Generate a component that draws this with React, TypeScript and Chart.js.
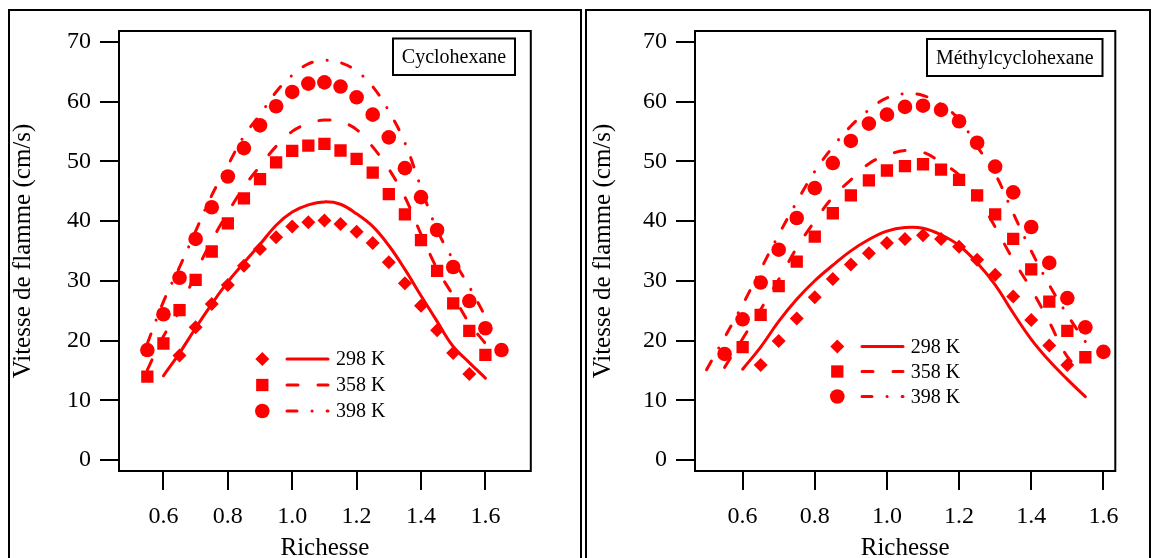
import React, { useEffect, useRef } from "react";
import { Chart, registerables } from "chart.js";

Chart.register(...registerables);

const RED = "rgb(255,0,0)";
const FONT = "'Liberation Serif', 'Times New Roman', serif";

const X_TICKS = [0.6, 0.8, 1.0, 1.2, 1.4, 1.6];
const Y_TICKS = [0, 10, 20, 30, 40, 50, 60, 70];
const SERIES_LABELS = ["298 K", "358 K", "398 K"];
const Y_TITLE = "Vitesse de flamme (cm/s)";
const X_TITLE = "Richesse";

// ---------- Cyclohexane (left) ----------
const CY_NAME = "Cyclohexane";
const CY_PHI_298 = [0.65, 0.7, 0.75, 0.8, 0.85, 0.9, 0.95, 1.0, 1.05, 1.1, 1.15, 1.2, 1.25, 1.3, 1.35, 1.4, 1.45, 1.5, 1.55];
const CY_EXP_298 = [17.5, 22.2, 26.1, 29.3, 32.5, 35.3, 37.3, 39.1, 39.8, 40.1, 39.5, 38.2, 36.3, 33.1, 29.6, 25.8, 21.7, 17.9, 14.4];
const CY_PHI_358 = [0.55, 0.6, 0.65, 0.7, 0.75, 0.8, 0.85, 0.9, 0.95, 1.0, 1.05, 1.1, 1.15, 1.2, 1.25, 1.3, 1.35, 1.4, 1.45, 1.5, 1.55, 1.6];
const CY_EXP_358 = [13.95, 19.5, 25.1, 30.15, 34.9, 39.6, 43.8, 47.0, 49.8, 51.75, 52.6, 52.9, 51.8, 50.4, 48.1, 44.5, 41.1, 36.8, 31.65, 26.2, 21.6, 17.6];
const CY_PHI_398 = [0.55, 0.6, 0.65, 0.7, 0.75, 0.8, 0.85, 0.9, 0.95, 1.0, 1.05, 1.1, 1.15, 1.2, 1.25, 1.3, 1.35, 1.4, 1.45, 1.5, 1.55, 1.6, 1.65];
const CY_EXP_398 = [18.4, 24.4, 30.5, 37.0, 42.3, 47.45, 52.2, 56.0, 59.2, 61.6, 63.0, 63.2, 62.5, 60.7, 57.8, 54.0, 48.85, 44.0, 38.5, 32.3, 26.6, 22.05, 18.4];

const CY_FIT_PHI_298 = [0.6, 0.65, 0.7, 0.75, 0.8, 0.85, 0.9, 0.95, 1.0, 1.05, 1.1, 1.15, 1.2, 1.25, 1.3, 1.35, 1.4, 1.45, 1.5, 1.55, 1.6];
const CY_FIT_298 = [14.1, 17.9, 22.1, 26.1, 29.8, 33.0, 36.1, 39.3, 41.5, 42.7, 43.2, 42.8, 41.2, 39.1, 35.9, 31.9, 27.5, 23.2, 19.0, 16.3, 13.7];
const CY_FIT_PHI_358 = [0.55, 0.6, 0.65, 0.7, 0.75, 0.8, 0.85, 0.9, 0.95, 1.0, 1.05, 1.1, 1.15, 1.2, 1.25, 1.3, 1.35, 1.4, 1.45, 1.5, 1.55, 1.6];
const CY_FIT_358 = [15.1, 20.7, 25.0, 31.3, 36.7, 41.4, 45.7, 49.2, 52.5, 55.0, 56.3, 56.9, 56.6, 55.3, 52.4, 48.7, 44.0, 37.8, 32.0, 27.5, 22.9, 19.5];
const CY_FIT_PHI_398 = [0.55, 0.6, 0.65, 0.7, 0.75, 0.8, 0.85, 0.9, 0.95, 1.0, 1.05, 1.1, 1.15, 1.2, 1.25, 1.3, 1.35, 1.4, 1.45, 1.5, 1.55, 1.6];
const CY_FIT_398 = [19.5, 26.5, 32.3, 38.3, 44.3, 49.3, 54.2, 57.8, 61.6, 64.4, 66.3, 66.9, 66.5, 65.1, 62.5, 58.4, 53.1, 45.6, 38.5, 33.5, 29.0, 24.0];

// ---------- Méthylcyclohexane (right) ----------
const MCH_NAME = "Méthylcyclohexane";
const MCH_PHI_298 = [0.65, 0.7, 0.75, 0.8, 0.85, 0.9, 0.95, 1.0, 1.05, 1.1, 1.15, 1.2, 1.25, 1.3, 1.35, 1.4, 1.45, 1.5];
const MCH_EXP_298 = [15.9, 19.9, 23.7, 27.25, 30.3, 32.7, 34.6, 36.3, 37.0, 37.6, 37.0, 35.7, 33.5, 31.0, 27.35, 23.45, 19.15, 15.9];
const MCH_PHI_358 = [0.6, 0.65, 0.7, 0.75, 0.8, 0.85, 0.9, 0.95, 1.0, 1.05, 1.1, 1.15, 1.2, 1.25, 1.3, 1.35, 1.4, 1.45, 1.5, 1.55];
const MCH_EXP_358 = [18.9, 24.3, 29.1, 33.2, 37.4, 41.3, 44.3, 46.8, 48.45, 49.2, 49.5, 48.6, 46.9, 44.3, 41.1, 37.0, 31.9, 26.5, 21.6, 17.2];
const MCH_PHI_398 = [0.55, 0.6, 0.65, 0.7, 0.75, 0.8, 0.85, 0.9, 0.95, 1.0, 1.05, 1.1, 1.15, 1.2, 1.25, 1.3, 1.35, 1.4, 1.45, 1.5, 1.55, 1.6];
const MCH_EXP_398 = [17.75, 23.55, 29.7, 35.2, 40.5, 45.5, 49.7, 53.4, 56.3, 57.8, 59.1, 59.3, 58.6, 56.7, 53.1, 49.1, 44.8, 39.0, 33.0, 27.1, 22.2, 18.1];

const MCH_FIT_PHI_298 = [0.6, 0.65, 0.7, 0.75, 0.8, 0.85, 0.9, 0.95, 1.0, 1.05, 1.1, 1.15, 1.2, 1.25, 1.3, 1.35, 1.4, 1.45, 1.5, 1.55];
const MCH_FIT_298 = [15.2, 18.9, 23.2, 26.9, 30.0, 32.6, 35.0, 36.9, 38.3, 38.9, 38.8, 37.7, 35.9, 33.0, 29.3, 24.6, 20.2, 16.6, 13.5, 10.6];
const MCH_FIT_PHI_358 = [0.55, 0.6, 0.65, 0.7, 0.75, 0.8, 0.85, 0.9, 0.95, 1.0, 1.05, 1.1, 1.15, 1.2, 1.25, 1.3, 1.35, 1.4, 1.45, 1.5, 1.55];
const MCH_FIT_358 = [15.5, 20.3, 25.2, 30.2, 35.5, 40.0, 44.0, 46.9, 49.6, 51.0, 51.8, 51.5, 49.8, 47.7, 44.0, 39.0, 33.5, 28.6, 23.1, 17.3, 14.3];
const MCH_FIT_PHI_398 = [0.5, 0.55, 0.6, 0.65, 0.7, 0.75, 0.8, 0.85, 0.9, 0.95, 1.0, 1.05, 1.1, 1.15, 1.2, 1.25, 1.3, 1.35, 1.4, 1.45, 1.5, 1.55];
const MCH_FIT_398 = [15.1, 20.5, 26.0, 31.9, 37.7, 43.2, 48.3, 52.4, 55.9, 58.6, 60.6, 61.3, 61.0, 59.5, 57.0, 52.5, 47.9, 41.3, 35.0, 29.3, 24.3, 19.8];

const pts = (xs: number[], ys: number[]) => xs.map((x, i) => ({ x, y: ys[i] }));

const MARKERS = [
  { style: "rectRot", radius: 7 },
  { style: "rect", radius: 8.7 },
  { style: "circle", radius: 7.3 },
];
const DASHES: number[][] = [[], [11, 20], [10, 15, 0.1, 15]];

type PanelCfg = {
  left: number;
  width: number;
  name: string;
  xMin: number;
  xMax: number;
  yAxisWidth: number;
  padRight: number;
  yTitlePad: number;
  box: [number, number, number, number];
  legend: { mx: number; l1: number; l2: number; tx: number; rows: number[] };
  exp: { x: number; y: number }[][];
  fit: { x: number; y: number }[][];
};

function drawMarker(ctx: CanvasRenderingContext2D, style: string, r: number, x: number, y: number) {
  ctx.beginPath();
  if (style === "circle") {
    ctx.arc(x, y, r, 0, Math.PI * 2);
  } else if (style === "rect") {
    const s = r * Math.SQRT1_2;
    ctx.rect(x - s, y - s, 2 * s, 2 * s);
  } else {
    ctx.moveTo(x - r, y);
    ctx.lineTo(x, y - r);
    ctx.lineTo(x + r, y);
    ctx.lineTo(x, y + r);
    ctx.closePath();
  }
  ctx.fill();
}

function decorPlugin(cfg: PanelCfg) {
  return {
    id: "decor",
    afterDraw(chart: any) {
      const { ctx, chartArea: a } = chart;
      ctx.save();
      ctx.strokeStyle = "#000";
      ctx.lineWidth = 2;
      ctx.setLineDash([]);
      ctx.strokeRect(a.left, a.top, a.right - a.left, a.bottom - a.top);
      // name box
      const [bx, by, bw, bh] = cfg.box;
      ctx.fillStyle = "#fff";
      ctx.fillRect(bx, by, bw, bh);
      ctx.strokeRect(bx, by, bw, bh);
      ctx.fillStyle = "#000";
      ctx.font = `20px ${FONT}`;
      ctx.textAlign = "center";
      ctx.textBaseline = "middle";
      ctx.fillText(cfg.name, bx + bw / 2, by + bh / 2 + 1);
      // legend
      const L = cfg.legend;
      for (let i = 0; i < 3; i++) {
        const y = L.rows[i];
        ctx.fillStyle = RED;
        drawMarker(ctx, MARKERS[i].style, MARKERS[i].radius, L.mx, y);
        ctx.strokeStyle = RED;
        ctx.lineWidth = 3;
        ctx.lineCap = "round";
        ctx.setLineDash(DASHES[i]);
        ctx.beginPath();
        ctx.moveTo(L.l1, y);
        ctx.lineTo(L.l2, y);
        ctx.stroke();
        ctx.setLineDash([]);
        ctx.fillStyle = "#000";
        ctx.font = `20px ${FONT}`;
        ctx.textAlign = "left";
        ctx.textBaseline = "middle";
        ctx.fillText(SERIES_LABELS[i], L.tx, y + 1);
      }
      ctx.restore();
    },
  };
}

function buildConfig(cfg: PanelCfg): any {
  const datasets: any[] = [];
  for (let i = 0; i < 3; i++) {
    datasets.push({
      label: SERIES_LABELS[i] + " calc",
      data: cfg.fit[i],
      showLine: true,
      borderColor: RED,
      borderWidth: 3,
      borderDash: DASHES[i],
      borderCapStyle: "round",
      pointRadius: 0,
      pointHoverRadius: 0,
      tension: 0.4,
      fill: false,
    });
  }
  for (let i = 0; i < 3; i++) {
    datasets.push({
      label: SERIES_LABELS[i],
      data: cfg.exp[i],
      showLine: false,
      pointStyle: MARKERS[i].style,
      pointRadius: MARKERS[i].radius,
      pointHoverRadius: MARKERS[i].radius,
      backgroundColor: RED,
      borderColor: RED,
      borderWidth: 0,
    });
  }
  const tickFont = { family: FONT, size: 24 };
  const grid = {
    display: true,
    drawOnChartArea: false,
    drawTicks: true,
    tickLength: 19,
    tickWidth: 2,
    tickColor: "#000",
    color: "#000",
    lineWidth: 2,
  };
  return {
    type: "scatter",
    data: { datasets },
    plugins: [decorPlugin(cfg)],
    options: {
      responsive: false,
      maintainAspectRatio: false,
      animation: false,
      devicePixelRatio: 1,
      events: [],
      layout: { padding: { left: 0, top: 31, right: cfg.padRight, bottom: 0 } },
      plugins: { legend: { display: false }, tooltip: { enabled: false } },
      scales: {
        x: {
          type: "linear",
          min: cfg.xMin,
          max: cfg.xMax,
          afterFit: (s: any) => {
            s.height = 87;
          },
          afterBuildTicks: (s: any) => {
            s.ticks = X_TICKS.map((v) => ({ value: v }));
          },
          ticks: {
            callback: (v: any) => Number(v).toFixed(1),
            font: tickFont,
            color: "#000",
            padding: 12,
            maxRotation: 0,
            autoSkip: false,
          },
          grid,
          border: { display: false },
          title: {
            display: true,
            text: X_TITLE,
            color: "#000",
            font: { family: FONT, size: 25, lineHeight: 1.2 },
            padding: { top: 0, bottom: -5 },
          },
        },
        y: {
          type: "linear",
          min: -1.84,
          max: 71.8,
          afterFit: (s: any) => {
            s.width = cfg.yAxisWidth;
          },
          afterBuildTicks: (s: any) => {
            s.ticks = Y_TICKS.map((v) => ({ value: v }));
          },
          ticks: {
            callback: (v: any) => String(v),
            font: tickFont,
            color: "#000",
            padding: 9,
            autoSkip: false,
          },
          grid,
          border: { display: false },
          title: {
            display: true,
            text: Y_TITLE,
            color: "#000",
            font: { family: FONT, size: 25, lineHeight: 1.2 },
            padding: { top: cfg.yTitlePad, bottom: 0 },
          },
        },
      },
    },
  };
}

const PANELS: PanelCfg[] = [
  {
    left: 0,
    width: 583,
    name: CY_NAME,
    xMin: 0.462,
    xMax: 1.741,
    yAxisWidth: 119,
    padRight: 52.2,
    yTitlePad: 8,
    box: [393, 38.5, 122, 36.5],
    legend: { mx: 262.3, l1: 287, l2: 328, tx: 336, rows: [359, 385, 411] },
    exp: [pts(CY_PHI_298, CY_EXP_298), pts(CY_PHI_358, CY_EXP_358), pts(CY_PHI_398, CY_EXP_398)],
    fit: [pts(CY_FIT_PHI_298, CY_FIT_298), pts(CY_FIT_PHI_358, CY_FIT_358), pts(CY_FIT_PHI_398, CY_FIT_398)],
  },
  {
    left: 583,
    width: 570,
    name: MCH_NAME,
    xMin: 0.468,
    xMax: 1.633,
    yAxisWidth: 112,
    padRight: 37.7,
    yTitlePad: 5,
    box: [344, 39, 175.5, 37],
    legend: { mx: 254.3, l1: 279, l2: 320, tx: 327.7, rows: [346.5, 371.5, 396.5] },
    exp: [pts(MCH_PHI_298, MCH_EXP_298), pts(MCH_PHI_358, MCH_EXP_358), pts(MCH_PHI_398, MCH_EXP_398)],
    fit: [pts(MCH_FIT_PHI_298, MCH_FIT_298), pts(MCH_FIT_PHI_358, MCH_FIT_358), pts(MCH_FIT_PHI_398, MCH_FIT_398)],
  },
];

function Panel({ cfg }: { cfg: PanelCfg }) {
  const ref = useRef<HTMLCanvasElement | null>(null);
  useEffect(() => {
    if (!ref.current) return;
    const chart = new Chart(ref.current, buildConfig(cfg));
    return () => chart.destroy();
  }, [cfg]);
  return (
    <canvas
      ref={ref}
      width={cfg.width}
      height={558}
      style={{ position: "absolute", left: cfg.left, top: 0, width: cfg.width, height: 558 }}
    />
  );
}

export default function App() {
  return (
    <div
      style={{
        position: "fixed",
        left: 0,
        top: 0,
        width: 1153,
        height: 558,
        overflow: "hidden",
        background: "#fff",
      }}
    >
      <div
        style={{
          position: "absolute",
          left: 8,
          top: 9,
          width: 574,
          height: 620,
          boxSizing: "border-box",
          border: "2px solid #000",
        }}
      />
      <div
        style={{
          position: "absolute",
          left: 585,
          top: 9,
          width: 566,
          height: 620,
          boxSizing: "border-box",
          border: "2px solid #000",
        }}
      />
      {PANELS.map((p) => (
        <Panel key={p.name} cfg={p} />
      ))}
    </div>
  );
}
